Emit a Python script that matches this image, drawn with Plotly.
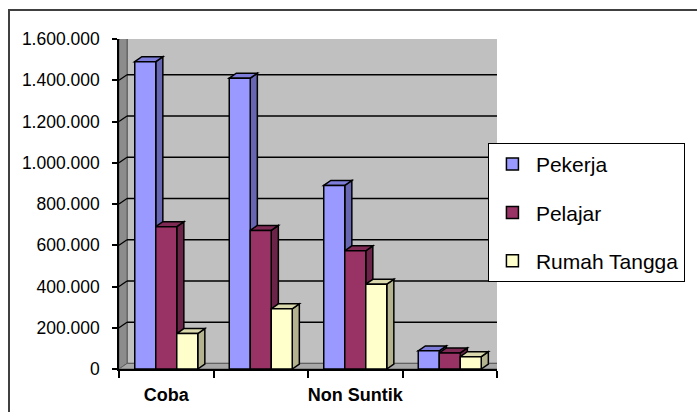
import plotly.graph_objects as go

# ---- data ----
category_labels = ["Coba", "", "Non Suntik", ""]
series_names = ["Pekerja", "Pelajar", "Rumah Tangga"]
pekerja = [1490000, 1410000, 890000, 88000]
pelajar = [690000, 672000, 573000, 78000]
rumah_tangga = [172000, 292000, 411000, 60000]
y_ticks = [0, 200000, 400000, 600000, 800000, 1000000, 1200000, 1400000, 1600000]

series_values = [pekerja, pelajar, rumah_tangga]
front_colors = ["#9999ff", "#993366", "#ffffcc"]
side_colors = ["#6666b3", "#6b2447", "#b3b38f"]
top_colors = ["#7d7dd9", "#7f2a55", "#d9d9ad"]

x_idx = list(range(len(category_labels)))
YMAX = 1600000
BAR_W = 0.6667 / 3
BDX, BDY = 0.075, 24000      # bar depth offsets (data units)
WDX, WDY = 0.085, 27000      # wall depth offsets

SANS = "Liberation Sans, Arial, sans-serif"

fig = go.Figure()
for name, vals, col in zip(series_names, series_values, front_colors):
    fig.add_trace(go.Bar(
        x=x_idx, y=vals, name=name, legendgroup=name,
        marker=dict(color=col, line=dict(color="black", width=1.5)),
    ))

shapes = []
x0, x1 = -0.5, len(category_labels) - 0.5
# back wall
shapes.append(dict(type="rect", xref="x", yref="y", x0=x0 + WDX, x1=x1 + WDX,
                   y0=WDY, y1=YMAX + WDY, fillcolor="#c0c0c0",
                   line=dict(color="#606060", width=1.5), layer="below"))
# left wall
shapes.append(dict(type="path", xref="x", yref="y",
                   path=f"M {x0},0 L {x0 + WDX},{WDY} L {x0 + WDX},{YMAX + WDY} L {x0},{YMAX} Z",
                   fillcolor="#8c8c8c", line=dict(color="#606060", width=1), layer="below"))
# floor
shapes.append(dict(type="path", xref="x", yref="y",
                   path=f"M {x0},0 L {x1},0 L {x1 + WDX},{WDY} L {x0 + WDX},{WDY} Z",
                   fillcolor="#a8a8a8", line=dict(color="#606060", width=1), layer="below"))
# gridlines on walls
for v in y_ticks[1:]:
    shapes.append(dict(type="line", xref="x", yref="y", x0=x0 + WDX, x1=x1 + WDX,
                       y0=v + WDY, y1=v + WDY, line=dict(color="black", width=1.5), layer="below"))
    shapes.append(dict(type="line", xref="x", yref="y", x0=x0, x1=x0 + WDX,
                       y0=v, y1=v + WDY, line=dict(color="black", width=1.2), layer="below"))

# bar sides and tops
for i in x_idx:
    for j, vals in enumerate(series_values):
        v = vals[i]
        xc = i + (j - 1) * BAR_W
        l, r = xc - BAR_W / 2, xc + BAR_W / 2
        shapes.append(dict(type="path", xref="x", yref="y",
                           path=f"M {r},0 L {r + BDX},{BDY} L {r + BDX},{v + BDY} L {r},{v} Z",
                           fillcolor=side_colors[j], line=dict(color="black", width=1.5), layer="below"))
        shapes.append(dict(type="path", xref="x", yref="y",
                           path=f"M {l},{v} L {l + BDX},{v + BDY} L {r + BDX},{v + BDY} L {r},{v} Z",
                           fillcolor=top_colors[j], line=dict(color="black", width=1.5), layer="below"))

# outer chart border
shapes.append(dict(type="rect", xref="paper", yref="paper", x0=-0.291, x1=1.6,
                   y0=-0.2, y1=1.088, line=dict(color="#404040", width=2),
                   fillcolor="rgba(0,0,0,0)", layer="above"))

fig.update_layout(
    width=697, height=412,
    margin=dict(l=119, r=200, t=39, b=43, autoexpand=False),
    paper_bgcolor="white", plot_bgcolor="rgba(0,0,0,0)",
    barmode="group", bargap=0.3333, bargroupgap=0,
    separators=",.",
    shapes=shapes,
    showlegend=True,
    legend=dict(x=0.976, xanchor="left", y=0.685, yanchor="top",
                bordercolor="black", borderwidth=1, bgcolor="white",
                font=dict(family=SANS, size=21, color="black"),
                tracegroupgap=18, traceorder="grouped", itemwidth=37,
                entrywidth=210),
    xaxis=dict(range=[x0, x1], tickmode="array", tickvals=[0, 2],
               ticktext=[category_labels[0], category_labels[2]],
               ticks="", showgrid=False, zeroline=False,
               showline=True, linecolor="black", linewidth=1.5,
               tickfont=dict(family=SANS, size=18, color="black", weight="bold"),
               ticklabelstandoff=9,
               minor=dict(tickmode="array", tickvals=[-0.5, 0.5, 1.5, 2.5, 3.5],
                          ticks="outside", ticklen=7, tickcolor="black", tickwidth=1.5)),
    yaxis=dict(range=[0, YMAX], tickmode="array", tickvals=y_ticks,
               tickformat=",d", ticks="outside", ticklen=5, tickcolor="black", tickwidth=1.5,
               showgrid=False, zeroline=False, showline=True, linecolor="black", linewidth=1.5,
               tickfont=dict(family=SANS, size=17.5, color="black"),
               ticklabelstandoff=9),
)

fig.write_html("out.html")
